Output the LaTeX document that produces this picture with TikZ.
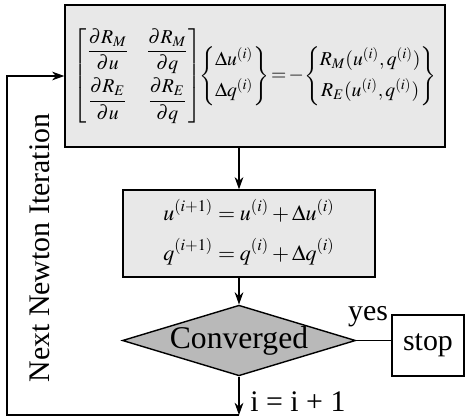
\documentclass[tikz,border=0pt]{standalone}
\usepackage{amsmath}
\usepackage{mathptmx}
\usepackage{fontspec}
\setmainfont{Liberation Serif}
\usetikzlibrary{shapes.geometric,arrows.meta}
\tikzset{
  eqbox/.style={draw,thick,fill=gray!18,inner sep=0pt,font=\fontsize{12.5}{15}\selectfont},
  testdia/.style={draw,thick,diamond,aspect=3.3,fill=gray!55,inner sep=0pt,minimum width=4.44cm,minimum height=1.34cm},
  endbox/.style={draw,thick,inner sep=0pt,minimum width=1.44cm,minimum height=1.22cm},
  flow/.style={semithick,-{Stealth[length=7pt,width=5pt]}},
  txt/.style={inner sep=0pt,font=\fontsize{17}{20}\selectfont}
}
\begin{document}
\begin{tikzpicture}
\useasboundingbox (0,0) rectangle (9.3,8.36);
% linearised system
\node[eqbox,font=\fontsize{11.2}{14}\selectfont,minimum width=7.6cm,minimum height=2.84cm] (jac) at (5.1,6.84)
  {\setlength{\arraycolsep}{5pt}$\displaystyle
   \begin{bmatrix}
     \dfrac{\partial R_M}{\partial u} & \dfrac{\partial R_M}{\partial q}\\[8pt]
     \dfrac{\partial R_E}{\partial u} & \dfrac{\partial R_E}{\partial q}
   \end{bmatrix}
   \!\!\begin{Bmatrix} \Delta u^{(i)}\\[3pt] \Delta q^{(i)} \end{Bmatrix}
   \!=\!-\!\begin{Bmatrix} R_M(u^{(i)},q^{(i)})\\[3pt] R_E(u^{(i)},q^{(i)}) \end{Bmatrix}$};
% update
\node[eqbox,minimum width=5.04cm,minimum height=1.74cm] (upd) at (4.98,3.69)
  {$\begin{aligned} u^{(i+1)} &= u^{(i)} + \Delta u^{(i)}\\[2pt] q^{(i+1)} &= q^{(i)} + \Delta q^{(i)} \end{aligned}$};
% test
\node[testdia,txt,font=\fontsize{18}{21}\selectfont] (conv) at (4.78,1.55) {Converged};
\node[endbox,txt] (stop) at (8.56,1.45) {stop};
\node[txt] (yes) at (7.36,2.02) {yes};
\coordinate (bot) at (4.78,0.06);
\coordinate (lft) at (0.14,0.06);
\node[txt,rotate=90] (next) at (0.8,3.4) {Next Newton Iteration};
\node[txt,anchor=west] (inc) at (5.0,0.32) {i = i + 1};
% connectors
\draw[flow] (jac.south -| conv) -- (upd.north -| conv);
\draw[flow] (upd.south -| conv) -- (conv.north);
\draw[semithick] (conv.east) -- (conv.east -| stop.west);
\draw[flow] (conv.south) -- (bot);
\draw[flow] (bot) -- (lft) |- (jac.west);
\end{tikzpicture}
\end{document}
